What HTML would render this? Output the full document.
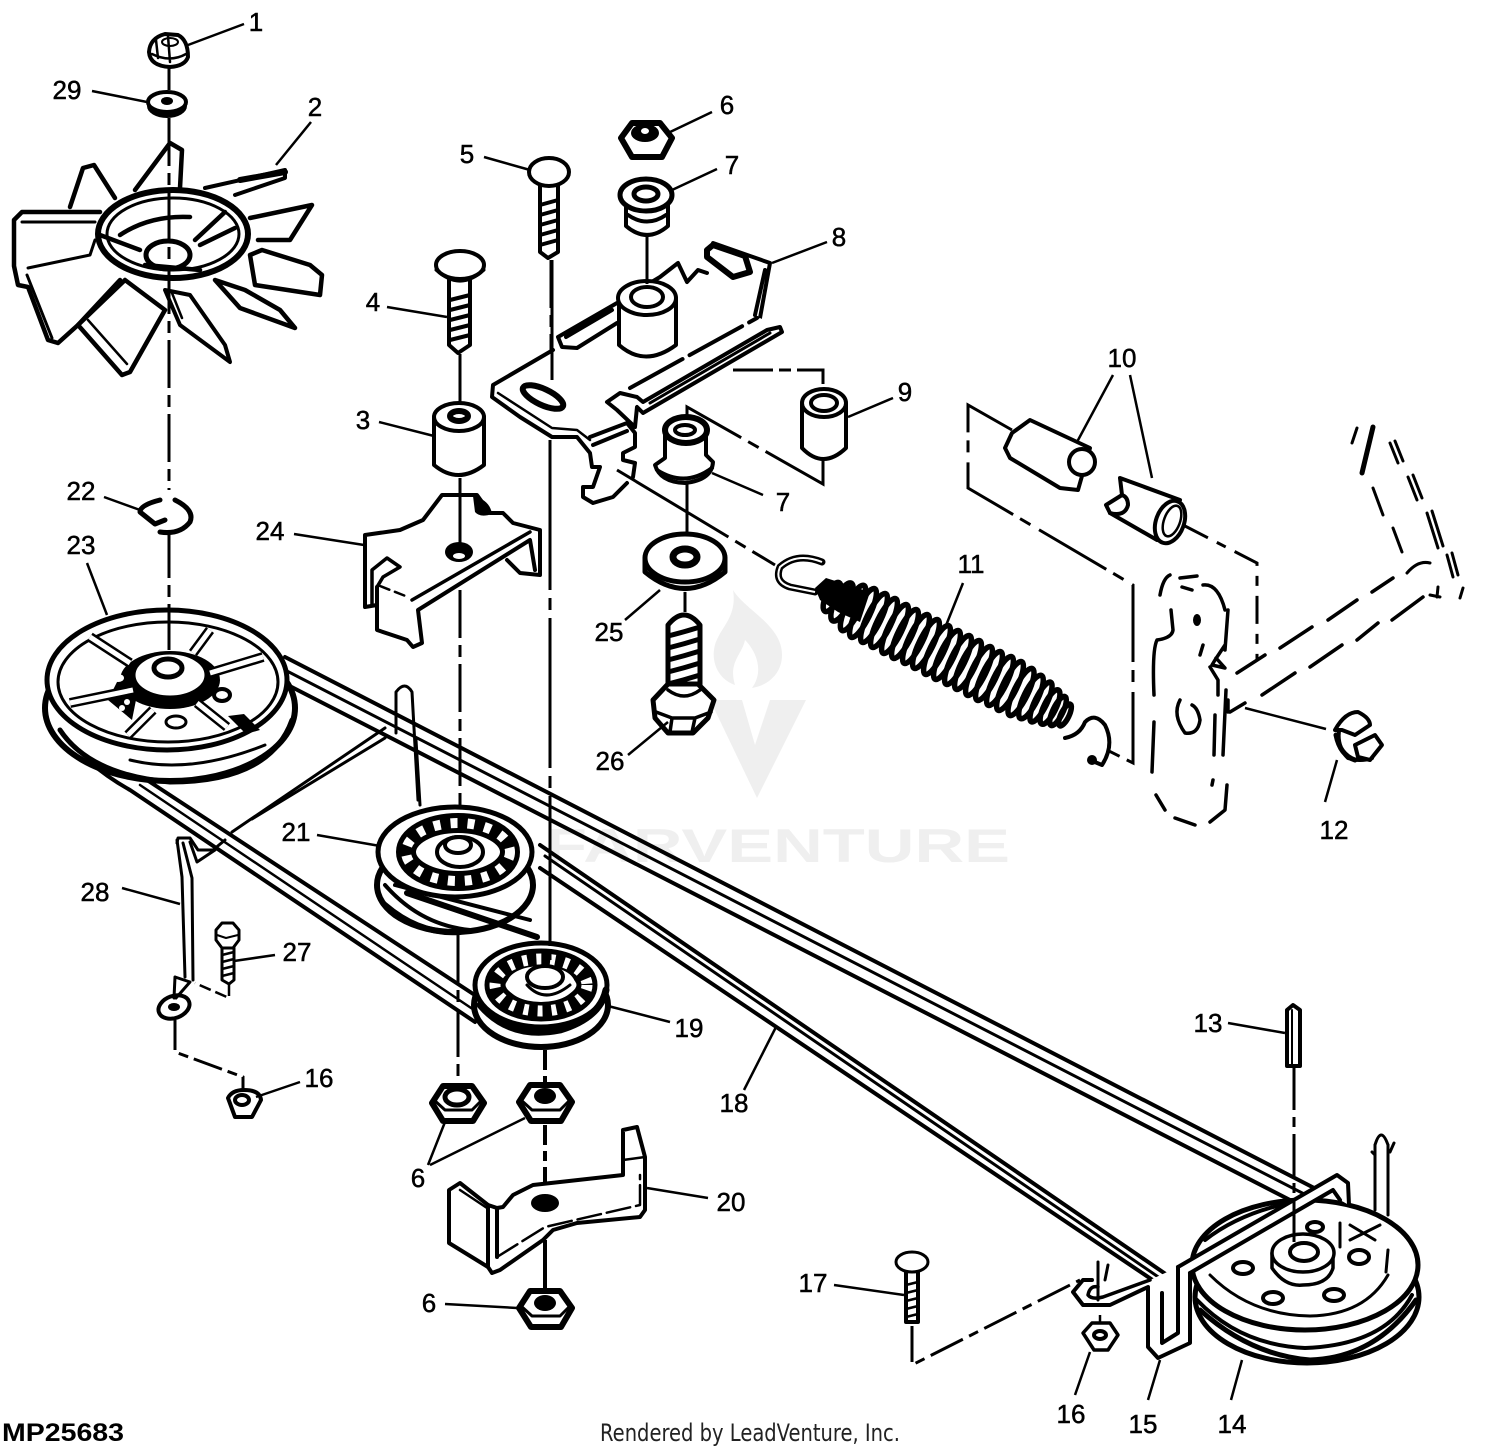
<!DOCTYPE html>
<html><head><meta charset="utf-8"><style>
html,body{margin:0;padding:0;background:#fff}
svg{display:block}
.a{fill:none;stroke:#000;stroke-width:4;stroke-linejoin:round;stroke-linecap:round}
.w{fill:#fff;stroke:#000;stroke-width:4;stroke-linejoin:round;stroke-linecap:round}
.b{fill:none;stroke:#000;stroke-width:7;stroke-linecap:round;stroke-linejoin:round}
.l{fill:none;stroke:#000;stroke-width:2.5}
.d{fill:none;stroke:#000;stroke-width:3;stroke-dasharray:48 7 12 7}
.k{fill:#000;stroke:none}
text.n{font:500 26px "Liberation Sans",sans-serif;fill:#000;stroke:#000;stroke-width:.5;text-anchor:middle}
</style></head><body>
<svg width="1500" height="1450" viewBox="0 0 1500 1450" xmlns="http://www.w3.org/2000/svg">
<rect width="1500" height="1450" fill="#fff"/>
<!-- watermark -->
<g fill="#efefef">
<path d="M733 590C745 610 782 625 782 655C782 672 770 685 752 688C765 670 755 650 745 640C742 655 728 662 735 685C720 680 712 665 714 650C716 630 738 620 733 590Z"/>
<path d="M710 700L742 700L755 745L770 700L806 700L757 798Z"/>
<text x="545" y="862" font-family="Liberation Sans" font-weight="700" font-size="47" textLength="465" lengthAdjust="spacingAndGlyphs">FARVENTURE</text>
</g>

<!-- belts -->
<g class="a">
<path d="M285 657L1320 1191"/><path d="M283 669L1310 1197" style="stroke-width:3"/><path d="M278 680L1290 1200"/>
<path d="M540 845L1170 1277"/><path d="M540 868L1160 1285"/><path d="M545 856L1170 1285" style="stroke-width:3"/>
<path d="M75 730L150 782L490 1005"/><path d="M52 722Q85 765 130 790L475 1022"/><path d="M140 785L480 1014" style="stroke-width:2.5"/>
<path d="M232 832L385 728" style="stroke-width:3"/><path d="M252 819L385 738" style="stroke-width:3"/>
<path d="M396 733L396 692Q405 680 412 692L418 800" style="stroke-width:3"/><path d="M416 740L420 805" style="stroke-width:3"/>
</g>
<!-- wire 28 -->
<g class="a" style="stroke-width:3">
<path d="M177 843L178 838L190 838L198 850L213 850L225 840"/>
<path d="M177 840L182 877L185 977"/>
<path d="M183 843L192 878L193 980"/>
<path d="M190 842L197 862L215 850"/>
<path d="M175 977L174 998M175 977L190 982L176 998"/>
</g>
<ellipse cx="174" cy="1007" rx="16" ry="11" transform="rotate(-20 174 1007)" class="a"/>
<ellipse cx="174" cy="1007" rx="6" ry="4" class="k"/>

<!-- pulley 23 -->
<ellipse cx="170" cy="708" rx="125" ry="73" class="w" style="stroke-width:6"/>
<path class="b" d="M60 730Q90 775 170 782Q270 782 292 720" style="stroke-width:5"/>
<path class="a" d="M130 760Q190 775 265 745" style="stroke-width:3"/>
<ellipse cx="167" cy="680" rx="120" ry="70" class="w" style="stroke-width:5"/>
<ellipse cx="168" cy="682" rx="110" ry="60" class="a" style="stroke-width:3"/>
<ellipse cx="170" cy="680" rx="50" ry="29" class="k"/>
<path class="k" d="M108 700L118 680L138 690L132 720Z"/>
<path class="k" d="M228 716L246 734L260 730L244 714Z"/>
<ellipse cx="118" cy="678" rx="6" ry="4" fill="#fff"/>
<g fill="#fff"><circle cx="122" cy="708" r="3"/><circle cx="127" cy="702" r="3"/></g>
<g fill="none" stroke="#000" stroke-width="10" stroke-linecap="butt">
<path d="M90 637L130 663"/><path d="M210 630L193 653"/><path d="M263 657L210 673"/><path d="M70 703L133 690"/><path d="M128 735L153 710"/><path d="M227 727L197 703"/>
</g>
<g fill="none" stroke="#fff" stroke-width="5" stroke-linecap="butt">
<path d="M90 637L130 663"/><path d="M210 630L193 653"/><path d="M263 657L210 673"/><path d="M70 703L133 690"/><path d="M128 735L153 710"/><path d="M227 727L197 703"/>
</g>
<ellipse cx="170" cy="675" rx="36" ry="22" class="w" style="stroke-width:3"/>
<ellipse cx="168" cy="668" rx="14" ry="9" class="b" style="stroke-width:5"/>
<rect x="160" y="684" width="22" height="10" fill="#fff"/>
<ellipse cx="176" cy="722" rx="10" ry="6" class="w" style="stroke-width:3"/>
<ellipse cx="222" cy="695" rx="8" ry="6" class="w" style="stroke-width:4"/>

<!-- pulley 21 -->
<ellipse cx="455" cy="885" rx="78" ry="47" class="w" style="stroke-width:6"/>
<path class="a" d="M385 885Q420 925 470 930M395 885L530 920"/>
<path class="a" d="M407 893L537 937" style="stroke-width:6"/>
<path class="a" d="M385 905Q420 935 460 932" style="stroke-width:6"/>
<ellipse cx="455" cy="852" rx="77" ry="45" class="w" style="stroke-width:5"/>
<ellipse cx="458" cy="852" rx="52" ry="29" fill="none" stroke="#000" stroke-width="20"/>
<ellipse cx="458" cy="852" rx="52" ry="29" fill="none" stroke="#fff" stroke-width="10" stroke-dasharray="7 10"/>
<ellipse cx="460" cy="852" rx="23" ry="15" class="w" style="stroke-width:4"/>
<ellipse cx="458" cy="845" rx="13" ry="8" class="a" style="stroke-width:4"/>

<!-- pulley 19 -->
<ellipse cx="541" cy="1005" rx="67" ry="42" class="w" style="stroke-width:6"/>
<ellipse cx="541" cy="985" rx="66" ry="42" class="w" style="stroke-width:5"/>
<path class="b" d="M480 1005Q510 1040 560 1030Q600 1018 606 990"/>
<ellipse cx="541" cy="985" rx="46" ry="26" fill="none" stroke="#000" stroke-width="21"/>
<ellipse cx="541" cy="985" rx="46" ry="26" fill="none" stroke="#fff" stroke-width="11" stroke-dasharray="5 9"/>
<ellipse cx="541" cy="984" rx="34" ry="18" fill="#fff"/>
<ellipse cx="545" cy="977" rx="18" ry="11" class="w" style="stroke-width:4"/>
<path class="a" d="M527 985Q545 1005 570 985" style="stroke-width:3"/>

<!-- pulley 14 -->
<ellipse cx="1307" cy="1297" rx="112" ry="66" class="w" style="stroke-width:5"/>
<path class="a" d="M1197 1300Q1240 1345 1305 1348Q1385 1345 1412 1295"/>
<path class="b" d="M1200 1310Q1250 1355 1310 1360Q1375 1358 1416 1300" style="stroke-width:5"/>
<ellipse cx="1305" cy="1265" rx="113" ry="65" class="w" style="stroke-width:5"/>
<path class="a" style="stroke-width:3" d="M1210 1275Q1250 1315 1310 1316Q1365 1315 1388 1275M1388 1250L1386 1272"/>
<path class="a" d="M1272 1253V1268Q1285 1287 1303 1285Q1328 1285 1333 1268V1253" style="stroke-width:3.5"/>
<ellipse cx="1303" cy="1253" rx="31" ry="19" class="w" style="stroke-width:3.5"/>
<ellipse cx="1304" cy="1252" rx="14" ry="9" class="w"/>
<g class="w" style="stroke-width:4"><ellipse cx="1243" cy="1268" rx="10" ry="6"/><ellipse cx="1273" cy="1298" rx="10" ry="6"/><ellipse cx="1334" cy="1295" rx="10" ry="6"/><ellipse cx="1359" cy="1257" rx="10" ry="7"/><ellipse cx="1315" cy="1227" rx="8" ry="5"/></g>
<path class="a" style="stroke-width:3" d="M1340 1223V1247M1350 1225L1375 1240M1380 1225L1350 1240"/>
<path class="a" d="M1375 1210V1145M1388 1215V1145" style="stroke-width:3"/><path class="a" d="M1375 1145Q1381 1125 1388 1145M1372 1152L1375 1155M1394 1143L1390 1152" style="stroke-width:3"/>
<path class="a" d="M1205 1240Q1240 1213 1290 1203" style="stroke-width:4"/>
<path class="a" d="M1218 1245Q1250 1222 1290 1207" style="stroke-width:3"/>
<!-- bracket 15 -->
<path d="M1178 1267L1337 1175L1348 1183L1349 1205L1340 1200L1333 1190L1190 1273V1343L1158 1358L1148 1347V1287L1110 1305L1083 1305L1073 1292L1083 1280L1150 1280L1178 1267Z" fill="#fff"/>
<path class="a" d="M1178 1267L1337 1175L1348 1183L1349 1205"/>
<path class="a" d="M1190 1273L1333 1190L1340 1200"/>
<path class="a" d="M1178 1267V1333L1162 1343V1293"/>
<path class="a" d="M1190 1273V1343L1158 1358L1148 1347V1287L1110 1305L1083 1305L1073 1292L1083 1280L1092 1280"/>
<path class="a" d="M1150 1280L1103 1297Q1092 1300 1088 1295Q1090 1285 1098 1287" style="stroke-width:3.5"/>
<path class="a" d="M1098 1262V1300M1108 1265L1105 1280" style="stroke-width:3"/>
<!-- 16 nut br -->
<path class="w" d="M1083 1333L1092 1323H1110L1118 1335L1108 1350H1094Z" style="stroke-width:3.5"/>
<ellipse cx="1100" cy="1335" rx="6" ry="4" class="a"/>
<path class="l" d="M1100 1315V1322"/>

<!-- fan -->
<g class="a" style="stroke-width:4.5">
<path class="w" d="M135 190L170 143L182 150L180 188" style="stroke-width:4.5"/>
<path class="w" d="M70 207L83 168L94 165L115 198" style="stroke-width:4.5"/>
<path class="w" d="M100 212L22 212L14 220L14 266L18 285L28 287L48 340L58 343L78 325L120 280" style="stroke-width:4.5"/>
<path d="M28 268L90 255L95 240M22 222H95M27 275L52 338" style="stroke-width:3"/>
<path class="w" d="M78 325L122 375L130 372L165 310L125 280Z" style="stroke-width:4.5"/>
<path d="M88 320L127 364" style="stroke-width:2.5"/>
<path class="w" d="M165 290L180 325L230 362L225 345L190 295Z" style="stroke-width:4"/>
<path d="M172 293L182 318" style="stroke-width:2.5"/>
<path class="w" d="M215 280L240 308L295 328L280 310L245 290Z" style="stroke-width:4.5"/>
<path class="w" d="M250 255L255 285L320 295L322 275L310 265L262 250Z" style="stroke-width:4.5"/>
<path class="w" d="M250 218L312 205L290 240L258 240" style="stroke-width:4.5"/>
<path class="w" d="M205 188L285 170V178L235 195" style="stroke-width:4"/>
<path class="b" d="M240 180L285 172" style="stroke-width:6"/>
<ellipse cx="173" cy="234" rx="75" ry="44" class="w" style="stroke-width:6"/>
<ellipse cx="173" cy="234" rx="66" ry="36" class="a" style="stroke-width:3"/>
<path class="b" d="M100 235L140 250M120 235Q150 215 190 217M195 240L225 212M200 245L235 228M145 265L200 270" style="stroke-width:4.5"/>
<ellipse cx="168" cy="255" rx="22" ry="14" class="a" style="stroke-width:5"/>
</g>

<!-- nut 1, washer 29 -->
<path class="w" d="M149 52Q150 38 165 34L178 35Q188 40 188 57Q185 66 170 67Q150 66 149 52Z"/>
<path class="a" d="M152 54Q170 63 186 54M156 40L158 58M168 36L170 62" style="stroke-width:2.5"/>
<ellipse cx="170" cy="42" rx="8" ry="4" class="a" style="stroke-width:2"/>
<ellipse cx="167" cy="106" rx="20" ry="12" class="k"/>
<ellipse cx="167" cy="102" rx="19" ry="10" class="w"/>
<ellipse cx="167" cy="101" rx="6" ry="4" class="k"/>
<path class="l" d="M169 68V90" style="stroke-width:3"/>
<path class="d" d="M169 118V490M169 530V650"/>

<!-- snap ring 22 -->
<path class="a" style="stroke-width:5" d="M160 500Q140 505 140 512L155 524L165 520M175 500Q195 510 190 522Q180 535 160 532"/>

<!-- bolt 4, spacer 3 -->
<path class="a" d="M449 280V345L458 353L470 345V280"/>
<path class="b" style="stroke-width:4" d="M450 300L470 295M450 310L470 305M450 320L470 315M450 330L470 325M450 340L470 335"/>
<ellipse cx="460" cy="265" rx="24" ry="14" class="w"/>
<path class="a" d="M436 270Q460 292 484 270" style="stroke-width:3"/>
<path class="l" d="M460 354V405" style="stroke-width:3"/>
<path class="w" d="M434 417V465Q458 485 484 465V417"/>
<ellipse cx="459" cy="417" rx="25" ry="14" class="w"/>
<ellipse cx="459" cy="416" rx="9" ry="5" fill="#fff" stroke="#000" stroke-width="6"/>
<!-- bracket 24 -->
<path d="M365 535L400 530L423 520L442 495L477 495L490 513L503 513L513 523L540 530V575L507 560L418 610L422 643L413 647L407 640L377 630V605L365 607Z" fill="#fff"/>
<path class="a" d="M377 605L365 607V535L400 530L423 520L442 495L477 495L490 513L503 513L513 523L540 530V575L520 573L507 560"/>
<path class="a" d="M377 587V630L407 640L413 647L422 643L418 610L530 540L535 570"/>
<path class="a" d="M412 600L530 532" style="stroke-width:3.5"/>
<path class="a" d="M372 605V570L387 558L400 567L383 577L377 587" style="stroke-width:3.5"/>
<path class="k" d="M473 496Q490 500 492 514Q480 518 475 512Z"/>
<path class="a" d="M380 586L408 597" style="stroke-width:2.5;stroke-dasharray:10 6"/>
<ellipse cx="459" cy="552" rx="14" ry="10" class="k"/>
<ellipse cx="459" cy="556" rx="6" ry="3" fill="#fff"/>
<path class="l" style="stroke-width:3" d="M460 478V545"/>
<path class="d" d="M460 590V810M458 935V1082"/>

<!-- bolt 5 -->
<path class="a" d="M540 185V252L548 258L558 252V185"/>
<path class="b" style="stroke-width:4" d="M540 205L558 200M540 215L558 210M540 225L558 220M540 235L558 230M540 245L558 240"/>
<ellipse cx="549" cy="172" rx="20" ry="14" class="w"/>
<path class="d" d="M551 260V380"/><path class="l" d="M550 440V960" style="stroke-width:3;stroke-dasharray:150 8 12 8"/>

<!-- bracket 8 -->
<path class="a" d="M617 303L558 337L562 347L577 348L617 323M612 310L566 337"/>
<path class="a" d="M707 273L698 270L687 282L678 263L660 277L650 283"/>
<path class="b" style="stroke-width:6" d="M707 250L713 245L745 256L750 272L733 277L707 257Z"/>
<path class="a" d="M713 243L770 263L760 318M765 270L755 315"/>
<path d="M493 385L553 350L620 393L760 318L782 330L640 413L627 423L635 447L633 477L613 497L593 503L583 497L590 453L577 437L552 437L492 397Z" fill="#fff"/>
<path class="a" d="M553 350L493 385L492 397L520 417L552 437L577 437L590 453L592 467L600 467L593 487L583 487L583 497L593 503L613 497L627 483"/>
<path class="a" d="M498 393L552 428L577 430L590 440" style="stroke-width:2.5"/>
<path class="a" d="M590 437L627 423L635 433L635 447L623 453L623 460L635 463L633 477M593 445L627 431"/>
<path class="a" d="M630 388L757 318" style="stroke-dasharray:60 8"/>
<path class="w" style="fill:#fff" d="M607 402L620 393L637 397L643 402L767 330L780 327L782 332L643 413L637 407L635 427L617 410Z"/>
<path class="a" d="M650 403L770 333" style="stroke-width:3"/>
<ellipse cx="543" cy="397" rx="22" ry="8" transform="rotate(25 543 397)" class="b" style="stroke-width:6"/>
<path class="l" style="stroke-width:3" d="M552 260V380"/>
<!-- sleeve on 8 -->
<path class="w" d="M619 298V345Q645 368 676 345V298"/>
<ellipse cx="647" cy="298" rx="29" ry="17" class="w"/>
<ellipse cx="647" cy="297" rx="16" ry="10" class="a"/>
<path class="d" d="M647 236V290"/>

<!-- nut 6 top, bush 7 -->
<path class="w" d="M621 138L632 123H660L672 138L662 157H632Z" style="stroke-width:6"/>
<ellipse cx="645" cy="133" rx="14" ry="9" class="k"/>
<ellipse cx="645" cy="131" rx="4" ry="3" fill="#fff"/>
<path fill="#fff" d="M634 146H656L653 153H637Z"/>
<path class="w" d="M626 200V226Q647 244 668 226V200"/>
<ellipse cx="646" cy="223" rx="15" ry="8" fill="#fff"/>
<path class="a" d="M628 215Q647 228 666 215" style="stroke-width:4"/>
<ellipse cx="646" cy="195" rx="26" ry="16" class="w" style="stroke-width:5"/>
<ellipse cx="646" cy="194" rx="12" ry="7" class="w" style="stroke-width:5"/>

<!-- spacer 9 + dash lines -->
<path class="w" d="M802 404V448Q823 470 846 448V404"/>
<ellipse cx="824" cy="403" rx="22" ry="14" class="w"/>
<ellipse cx="824" cy="403" rx="13" ry="8" class="a"/>
<path class="l" style="stroke-width:3;stroke-dasharray:40 6 12 6" d="M733 370H823V390"/>
<path class="l" style="stroke-width:3;stroke-dasharray:90 8 12 8" d="M823 460V484L687 407V425"/>

<!-- bush 7 lower -->
<path class="w" d="M665 430V458L655 465Q660 482 685 483Q712 480 713 462L706 455V430"/>
<ellipse cx="686" cy="430" rx="21" ry="13" class="w" style="stroke-width:6"/>
<ellipse cx="685" cy="430" rx="10" ry="5" class="a"/>
<path class="a" d="M657 470Q685 488 712 468"/>
<path class="d" d="M687 484V545"/>
<!-- washer 25 -->
<path class="w" d="M645 558V572Q685 605 725 572V558" style="stroke-width:5"/>
<ellipse cx="685" cy="558" rx="40" ry="24" class="w" style="stroke-width:5"/>
<ellipse cx="685" cy="557" rx="12" ry="8" class="w" style="stroke-width:7"/>
<path class="l" d="M685 592V612" style="stroke-width:3"/>
<!-- bolt 26 -->
<path d="M668 625Q684 605 700 625V695H668Z" fill="#fff"/>
<path class="a" d="M668 625Q684 605 700 625V695M668 625V695" style="stroke-width:5"/>
<path class="b" style="stroke-width:5;stroke-linecap:butt" d="M668 636Q684 632 700 627M668 648Q684 644 700 639M668 660Q684 656 700 651M668 672Q684 668 700 663M668 684Q684 680 700 675"/>
<path class="w" d="M653 700L668 684L698 684L714 700L708 718L693 733H668L655 718Z" style="stroke-width:5"/>
<path class="a" d="M668 690Q684 702 700 690M656 712L672 718H695L711 712M672 718L670 732M695 718L692 732" style="stroke-width:3.5"/>

<!-- hook & spring -->
<path class="l" style="stroke-width:3;stroke-dasharray:130 8 12 8" d="M617 470L775 565"/>
<path class="a" d="M822 562Q797 552 780 567Q774 582 790 587L815 592" style="stroke-width:7"/>
<path d="M822 562Q797 552 780 567Q774 582 790 587L815 592" fill="none" stroke="#fff" stroke-width="2"/>
<path class="k" d="M815 588L826 578L870 592L860 622L838 612L820 600Z"/>
<g fill="none" stroke="#000" stroke-width="5.5">
<ellipse cx="832" cy="597" rx="6" ry="16" transform="rotate(26 832 597)"/>
<ellipse cx="842" cy="602" rx="7" ry="21" transform="rotate(26 842 602)"/>
<ellipse cx="853" cy="608" rx="7" ry="25" transform="rotate(26 853 608)"/>
<ellipse cx="863" cy="613" rx="7" ry="27" transform="rotate(26 863 613)"/>
<ellipse cx="874" cy="618" rx="7" ry="27" transform="rotate(26 874 618)"/>
<ellipse cx="884" cy="623" rx="7" ry="27" transform="rotate(26 884 623)"/>
<ellipse cx="895" cy="629" rx="7" ry="27" transform="rotate(26 895 629)"/>
<ellipse cx="905" cy="634" rx="7" ry="27" transform="rotate(26 905 634)"/>
<ellipse cx="916" cy="639" rx="7" ry="27" transform="rotate(26 916 639)"/>
<ellipse cx="926" cy="644" rx="7" ry="27" transform="rotate(26 926 644)"/>
<ellipse cx="937" cy="650" rx="7" ry="27" transform="rotate(26 937 650)"/>
<ellipse cx="947" cy="655" rx="7" ry="27" transform="rotate(26 947 655)"/>
<ellipse cx="958" cy="660" rx="7" ry="27" transform="rotate(26 958 660)"/>
<ellipse cx="968" cy="665" rx="7" ry="27" transform="rotate(26 968 665)"/>
<ellipse cx="979" cy="671" rx="7" ry="27" transform="rotate(26 979 671)"/>
<ellipse cx="989" cy="676" rx="7" ry="27" transform="rotate(26 989 676)"/>
<ellipse cx="1000" cy="681" rx="7" ry="27" transform="rotate(26 1000 681)"/>
<ellipse cx="1010" cy="686" rx="7" ry="27" transform="rotate(26 1010 686)"/>
<ellipse cx="1021" cy="692" rx="7" ry="26" transform="rotate(26 1021 692)"/>
<ellipse cx="1031" cy="697" rx="7" ry="24" transform="rotate(26 1031 697)"/>
<ellipse cx="1041" cy="702" rx="6" ry="22" transform="rotate(26 1041 702)"/>
<ellipse cx="1050" cy="707" rx="6" ry="19" transform="rotate(26 1050 707)"/>
<ellipse cx="1058" cy="711" rx="5" ry="16" transform="rotate(26 1058 711)"/>
<ellipse cx="1065" cy="715" rx="4" ry="12" transform="rotate(26 1065 715)"/>
</g>
<path class="a" d="M1065 738Q1080 735 1085 722Q1095 712 1105 725Q1115 745 1102 765L1090 760"/>
<circle cx="1092" cy="760" r="5" class="k"/>

<!-- 10 group -->
<path class="l" style="stroke-width:3;stroke-dasharray:78 8 12 10" d="M1012 430L968 405V488L1133 585V763L1107 750"/>
<path class="w" d="M1012 433L1030 420L1090 448L1078 490L1060 488L1010 458L1005 448Z"/>
<circle cx="1082" cy="462" r="13" class="w"/>
<path class="w" d="M1120 478L1180 500L1157 540L1110 513L1106 505L1122 495Z"/>
<path class="a" d="M1110 513Q1125 517 1128 505Q1128 497 1122 495"/>
<ellipse cx="1170" cy="522" rx="14" ry="22" transform="rotate(20 1170 522)" class="w"/>
<ellipse cx="1172" cy="521" rx="8" ry="16" transform="rotate(20 1172 521)" class="a" style="stroke-width:2.5"/>
<path class="l" style="stroke-width:3;stroke-dasharray:28 10 10 10" d="M1183 525L1257 563V660"/>

<!-- lever plate dashed -->
<g class="a" style="stroke-width:3.5">
<path d="M1160 595Q1163 578 1170 575M1180 578L1197 576M1182 587L1192 590M1203 585Q1218 583 1225 610"/>
<path d="M1171 610L1173 630Q1172 638 1157 640Q1152 650 1154 695M1154 722L1152 772M1156 795L1165 810M1175 818L1195 825M1210 822L1225 810L1227 785M1212 785L1213 780"/>
<path d="M1228 610L1225 650M1225 645L1215 660L1212 665L1225 668L1216 658"/>
<ellipse cx="1197" cy="620" rx="4" ry="6" class="k"/>
<path d="M1203 645L1200 655M1210 667L1218 680V695M1226 690L1223 755M1215 715L1214 755"/>
<path d="M1180 700Q1172 715 1185 733Q1198 735 1200 720Q1198 708 1192 705"/>
</g>
<g class="a" style="stroke-width:3.5">
<path d="M1237 673L1265 655M1280 648L1312 627M1328 620L1357 600M1372 592L1393 578"/>
<path d="M1262 695L1295 673M1310 667L1342 645M1357 640L1378 623M1392 620L1423 597"/>
<path d="M1230 712L1245 703M1228 700V712"/>
<path d="M1407 573Q1418 560 1430 563M1438 587L1437 597M1463 588L1460 598M1430 595L1440 597" style="stroke-width:3"/>
<path d="M1373 488L1383 515M1393 528L1402 552" style="stroke-width:3"/>
<path d="M1390 443L1398 463M1408 477L1417 500M1427 513L1438 548M1447 555L1453 577" style="stroke-width:3"/>
<path d="M1395 441L1403 461M1413 475L1422 498M1432 511L1443 546M1452 553L1458 575" style="stroke-width:3"/>
<path d="M1373 427L1362 473" style="stroke-width:5"/><path d="M1352 443L1357 428" style="stroke-width:3"/>
</g>
<!-- clip 12 -->
<path class="a" d="M1340 725Q1335 745 1348 758Q1360 762 1372 758"/>
<path class="w" d="M1335 730Q1345 712 1358 712Q1370 718 1370 725L1355 735L1342 730Z"/>
<path class="w" d="M1355 745L1375 735L1382 745L1370 760L1358 757Z"/>
<path class="a" d="M1336 735Q1340 755 1355 760" style="stroke-width:5"/>

<!-- bolt 27 -->
<path class="a" d="M222 948V980L229 984L234 980V948" style="stroke-width:3"/>
<path class="b" style="stroke-width:2.5" d="M222 955L234 952M222 962L234 959M222 969L234 966M222 976L234 973"/>
<path class="w" d="M216 930L222 923H233L239 930V940L233 948H222L216 940Z" style="stroke-width:3"/>
<path class="a" d="M217 935L226 938L238 935" style="stroke-width:2"/>
<path class="l" style="stroke-dasharray:12 5" d="M229 984V998L195 983"/>
<path class="l" style="stroke-width:3;stroke-dasharray:30 6 10 6" d="M175 1020V1052L243 1077V1090"/>
<!-- nut 16 left -->
<path class="w" d="M228 1098Q232 1090 244 1090Q260 1090 261 1100L252 1117H235Z" style="stroke-width:4"/>
<ellipse cx="242" cy="1100" rx="7" ry="5" class="a"/>

<!-- nuts 6 -->
<g class="w" style="stroke-width:6">
<path d="M432 1103L443 1086H472L484 1103L473 1121H443Z"/>
<path d="M519 1102L530 1085H560L572 1102L561 1121H531Z"/>
<path d="M519 1308L530 1291H560L572 1308L561 1327H531Z"/>
</g>
<ellipse cx="457" cy="1097" rx="12" ry="8" class="b" style="stroke-width:5"/>
<ellipse cx="545" cy="1096" rx="11" ry="8" class="k"/>
<ellipse cx="545" cy="1303" rx="11" ry="8" class="k"/>
<path class="a" style="stroke-width:3" d="M434 1100L445 1110H472L482 1100M521 1100L532 1110H560L570 1100M521 1306L532 1316H560L570 1306"/>
<path class="d" d="M545 1050V1084M545 1125V1190" style="stroke-width:4;stroke-dasharray:20 6 10 6"/>
<!-- bracket 20 -->
<path d="M449 1190L460 1183L488 1205L497 1208L503 1207L513 1195L533 1185L623 1175V1130L637 1127L645 1157V1210L640 1217L577 1223L553 1230L543 1240L500 1270L492 1273L488 1267L449 1243Z" fill="#fff"/>
<path class="a" d="M449 1190L460 1183L488 1205V1267L449 1243Z"/>
<path class="a" d="M488 1267L492 1273L500 1270L543 1240L553 1230L577 1223L640 1217L645 1210V1157L637 1127L623 1130V1175L533 1185L513 1195L503 1207L497 1208L488 1205"/>
<path class="a" d="M497 1208V1257"/>
<path class="a" d="M497 1257L545 1227L640 1205V1175M623 1160L645 1157" style="stroke-width:2.5;stroke-dasharray:24 6"/>
<path class="a" d="M460 1190L487 1208" style="stroke-width:2.5"/>
<ellipse cx="545" cy="1203" rx="14" ry="9" class="k"/>
<path class="l" style="stroke-width:4" d="M545 1240V1290"/>

<!-- bolt 13 -->
<path class="w" d="M1287 1010L1293 1005L1300 1010V1066H1287Z"/>
<path class="a" d="M1292 1010V1066" style="stroke-width:2"/>
<path class="l" style="stroke-width:3;stroke-dasharray:42 7 10 7" d="M1294 1068V1245"/>
<!-- bolt 17 -->
<path class="a" d="M906 1272V1322H918V1272"/>
<path class="b" style="stroke-width:2.5" d="M906 1285L918 1282M906 1293L918 1290M906 1301L918 1298M906 1309L918 1306M906 1317L918 1314"/>
<ellipse cx="912" cy="1262" rx="16" ry="10" class="w" style="stroke-width:3"/>
<path class="l" style="stroke-width:3;stroke-dasharray:36 7 10 7" d="M912 1326V1365L1080 1280"/>

<!-- leaders -->
<g class="l">
<path d="M244 24L188 45"/><path d="M92 91L147 102"/><path d="M311 122L276 165"/>
<path d="M484 157L530 170"/><path d="M712 112L668 133"/><path d="M717 169L672 190"/><path d="M827 242L772 263"/>
<path d="M387 307L447 317"/><path d="M379 422L434 436"/><path d="M893 398L848 417"/>
<path d="M1113 375L1077 442"/><path d="M1130 375L1152 478"/><path d="M763 495L712 473"/>
<path d="M104 497L140 510"/><path d="M87 563L107 615"/><path d="M294 534L364 545"/><path d="M625 620L660 590"/>
<path d="M963 583L945 628"/><path d="M628 755L668 722"/><path d="M1325 802L1337 760"/><path d="M1245 708L1326 729"/>
<path d="M317 835L380 846"/><path d="M122 888L180 904"/><path d="M275 955L234 961"/><path d="M670 1022L608 1006"/>
<path d="M1228 1023L1285 1033"/><path d="M300 1082L256 1097"/><path d="M744 1090L776 1027"/>
<path d="M428 1165L445 1122M430 1165L525 1118"/><path d="M708 1198L647 1188"/>
<path d="M834 1285L904 1295"/><path d="M445 1304L517 1308"/><path d="M1075 1395L1090 1352"/><path d="M1148 1400L1160 1360"/><path d="M1231 1400L1242 1360"/>
</g>

<!-- labels -->
<g>
<text class="n" x="256" y="31">1</text><text class="n" x="67" y="99">29</text><text class="n" x="315" y="116">2</text>
<text class="n" x="467" y="163">5</text><text class="n" x="727" y="114">6</text><text class="n" x="732" y="174">7</text>
<text class="n" x="839" y="246">8</text><text class="n" x="373" y="311">4</text><text class="n" x="363" y="429">3</text>
<text class="n" x="905" y="401">9</text><text class="n" x="1122" y="367">10</text><text class="n" x="783" y="511">7</text>
<text class="n" x="81" y="500">22</text><text class="n" x="81" y="554">23</text><text class="n" x="270" y="540">24</text>
<text class="n" x="609" y="641">25</text><text class="n" x="971" y="573">11</text><text class="n" x="610" y="770">26</text>
<text class="n" x="1334" y="839">12</text><text class="n" x="296" y="841">21</text><text class="n" x="95" y="901">28</text>
<text class="n" x="297" y="961">27</text><text class="n" x="689" y="1037">19</text><text class="n" x="1208" y="1032">13</text>
<text class="n" x="319" y="1087">16</text><text class="n" x="734" y="1112">18</text><text class="n" x="418" y="1187">6</text>
<text class="n" x="731" y="1211">20</text><text class="n" x="813" y="1292">17</text><text class="n" x="429" y="1312">6</text>
<text class="n" x="1071" y="1423">16</text><text class="n" x="1143" y="1433">15</text><text class="n" x="1232" y="1433">14</text>
</g>
<text x="2" y="1441" font-family="Liberation Sans" font-weight="700" font-size="25" textLength="122" lengthAdjust="spacingAndGlyphs">MP25683</text>
<text x="600" y="1441" font-family="DejaVu Sans" font-size="24" fill="#222" textLength="300" lengthAdjust="spacingAndGlyphs">Rendered by LeadVenture, Inc.</text>
</svg>
</body></html>
